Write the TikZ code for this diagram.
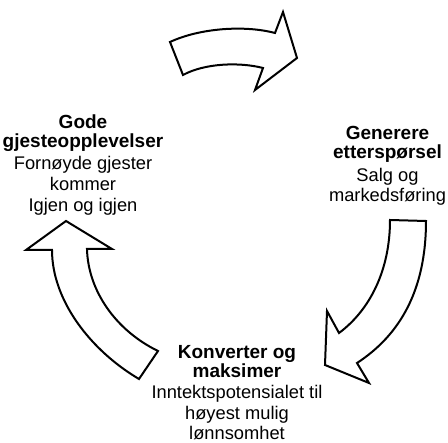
\documentclass[tikz,border=0pt]{standalone}
\usepackage{fontspec}
\setmainfont{Liberation Sans}
\begin{document}
\begin{tikzpicture}[x=1pt,y=-1pt,
  blockarrow/.style={draw=black,line width=2pt,fill=white,line join=miter},
  txtb/.style={anchor=base,inner sep=0pt,font=\fontsize{19pt}{22pt}\selectfont\bfseries},
  txtn/.style={anchor=base,inner sep=0pt,font=\fontsize{18.3pt}{22pt}\selectfont}]
\useasboundingbox (0,0) rectangle (448,443);
% top arrow
\draw[blockarrow] (170,42) .. controls (200,28) and (245,25) .. (275,33)
  -- (283,12) -- (297,58) -- (255,90) -- (263,68)
  .. controls (240,62) and (205,63) .. (183,75) -- cycle;
% right arrow
\draw[blockarrow] (390,220) -- (426,221)
  .. controls (426,290) and (400,335) .. (357,363)
  -- (369,383) -- (325,365) -- (327,311) -- (339,333)
  .. controls (370,310) and (390,270) .. (390,220) -- cycle;
% left arrow
\draw[blockarrow] (66,221) -- (112,249) -- (87,249)
  .. controls (88,290) and (115,330) .. (158,351)
  -- (139,379)
  .. controls (90,350) and (52,300) .. (52,250)
  -- (26,250) -- cycle;
% left texts
\node[txtb] (l1) at (83,129) {Gode};
\node[txtb] (l2) at (83,147.3) {gjesteopplevelser};
\node[txtn] (l3) at (83,169.5) {Fornøyde gjester};
\node[txtn] (l4) at (83,190.7) {kommer};
\node[txtn] (l5) at (83,211.7) {Igjen og igjen};
% right texts
\node[txtb] (r1) at (387.5,140) {Generere};
\node[txtb] (r2) at (387.5,158.3) {etterspørsel};
\node[txtn] (r3) at (387.5,181.5) {Salg og};
\node[txtn] (r4) at (387.5,202) {markedsføring};
% bottom texts
\node[txtb] (b1) at (237,359) {Konverter og};
\node[txtb] (b2) at (237,377.3) {maksimer};
\node[txtn] (b3) at (237,399) {Inntektspotensialet til};
\node[txtn] (b4) at (237,419.7) {høyest mulig};
\node[txtn] (b5) at (237,439.7) {lønnsomhet};
\end{tikzpicture}
\end{document}
